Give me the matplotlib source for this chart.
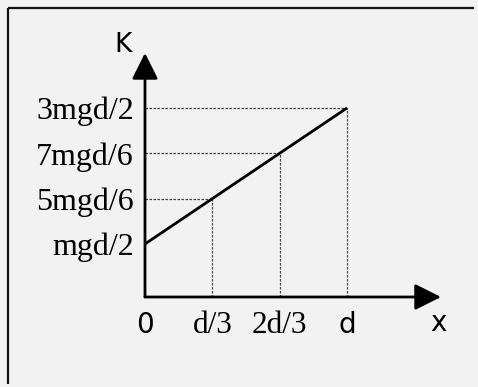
import matplotlib.pyplot as plt
from matplotlib.lines import Line2D

# K(x) = mgd/2 + mg*x, sampled at x = 0, d/3, 2d/3, d (x in units of d, K in units of mgd)
x_vals = [0.0, 1 / 3, 2 / 3, 1.0]
k_vals = [1 / 2, 5 / 6, 7 / 6, 3 / 2]
x_labels = ['0', 'd/3', '2d/3', 'd']
k_labels = ['mgd/2', '5mgd/6', '7mgd/6', '3mgd/2']

serif = ['Liberation Serif', 'DejaVu Serif']
sans = ['DejaVu Sans']

fig = plt.figure(figsize=(4.78, 3.87), dpi=100)
fig.patch.set_facecolor('#f2f2f2')

# frame edges (top and left; the rest runs off the canvas)
fx, fy = 7.5 / 478, 1 - 7.5 / 387
fig.add_artist(Line2D([fx, 474 / 478], [fy, fy], transform=fig.transFigure,
                      color='#111111', lw=1.6, solid_capstyle='butt'))
fig.add_artist(Line2D([fx, fx], [3 / 387, fy], transform=fig.transFigure,
                      color='#111111', lw=1.6, solid_capstyle='butt'))

ax = fig.add_axes([145 / 478, 1 - 297 / 387, 296 / 478, 244 / 387])
ax.set_facecolor('none')
x_min, x_max = 0.0, 1.465
k_min, k_max = 0.11, 1.904
ax.set_xlim(x_min, x_max)
ax.set_ylim(k_min, k_max)
for s in ax.spines.values():
    s.set_visible(False)

# axes with arrow heads
arrow = dict(arrowstyle='-|>,head_length=1.0,head_width=0.5', color='black',
             lw=2, shrinkA=0, shrinkB=0, mutation_scale=16)
ax.annotate('', xy=(0, 1), xytext=(0, 0), xycoords='axes fraction',
            textcoords='axes fraction', arrowprops=arrow)
ax.annotate('', xy=(1, 0), xytext=(0, 0), xycoords='axes fraction',
            textcoords='axes fraction', arrowprops=arrow)

# the line itself
ax.plot(x_vals, k_vals, color='black', lw=2, solid_capstyle='butt', zorder=3)

# dotted guides from each point to both axes
for xv, kv in zip(x_vals[1:], k_vals[1:]):
    ax.plot([0, xv], [kv, kv], color='#444444', lw=0.9, ls=(0, (2, 1.2)))
    ax.plot([xv, xv], [k_min, kv], color='#444444', lw=0.9, ls=(0, (2, 1.2)))

# tick labels
ax.set_xticks(x_vals)
ax.set_xticklabels(x_labels)
ax.set_yticks(k_vals)
ax.set_yticklabels(k_labels)
ax.tick_params(length=0)
ax.tick_params(axis='y', pad=8)
ax.tick_params(axis='x', pad=10)
for lab in ax.get_yticklabels():
    lab.set_fontfamily(serif)
    lab.set_fontsize(23)
for lab in ax.get_xticklabels():
    if lab.get_text() in ('0', 'd'):
        lab.set_fontfamily(sans)
        lab.set_fontsize(20)
    else:
        lab.set_fontfamily(serif)
        lab.set_fontsize(22.5)

# axis names next to the arrow tips
ax.text(-0.11, k_max + 0.06, 'K', fontsize=19, family=sans,
        ha='center', va='center')
ax.text(1.45, k_min - 0.19, 'x', fontsize=20, family=sans,
        ha='center', va='center')

fig.savefig('out.png', dpi=100, facecolor=fig.get_facecolor())
